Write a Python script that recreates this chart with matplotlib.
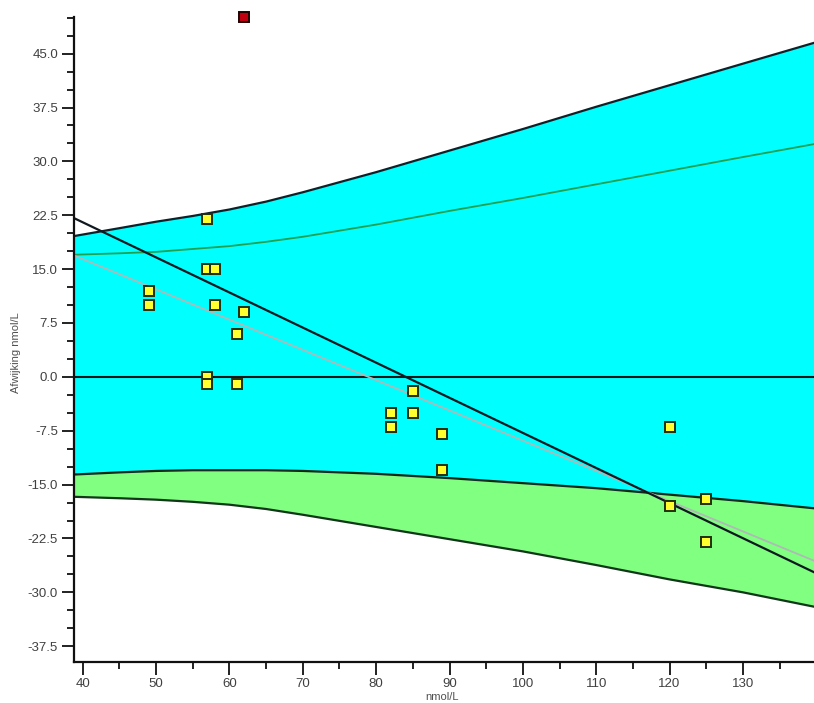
import matplotlib.pyplot as plt

# measured points (nmol/L vs deviation)
meas_x = [49, 49, 57, 57, 58, 58, 62, 61, 57, 57, 61, 82, 82, 85, 85, 89, 89, 120, 120, 125, 125]
meas_y = [12, 10, 22, 15, 15, 10, 9, 6, 0, -1, -1, -5, -7, -2, -5, -8, -13, -7, -18, -17, -23]

# outlier, drawn at the top edge
out_x = [62]
out_y = [50.1]

# limit curves
band_x = [38.8, 45, 50, 55, 60, 65, 70, 80, 90, 100, 110, 120, 130, 139.7]
upper = [19.6, 20.7, 21.6, 22.4, 23.3, 24.4, 25.7, 28.5, 31.5, 34.5, 37.6, 40.6, 43.6, 46.5]
middle = [17.0, 17.2, 17.4, 17.8, 18.2, 18.8, 19.5, 21.2, 23.1, 24.9, 26.8, 28.7, 30.6, 32.4]
lower = [-13.6, -13.3, -13.1, -13.0, -13.0, -13.0, -13.1, -13.5, -14.1, -14.8, -15.5, -16.4, -17.3, -18.3]
lowest = [-16.7, -16.9, -17.1, -17.4, -17.8, -18.4, -19.2, -20.9, -22.6, -24.3, -26.2, -28.2, -30.0, -32.0]

# regression lines
reg_x = [38.8, 139.7]
reg_y = [22.1, -27.2]
fit_y = [16.9, -25.6]

yticks = [-37.5, -30.0, -22.5, -15.0, -7.5, 0.0, 7.5, 15.0, 22.5, 30.0, 37.5, 45.0]
xticks = [40, 50, 60, 70, 80, 90, 100, 110, 120, 130]

plt.rcParams["font.family"] = ["Liberation Sans", "DejaVu Sans"]

fig = plt.figure(figsize=(8.14, 7.03), dpi=100)
ax = fig.add_axes([74 / 814, 41 / 703, 740 / 814, 645 / 703])

ax.fill_between(band_x, lower, upper, color="#00FFFF", lw=0)
ax.fill_between(band_x, lowest, lower, color="#80FF80", lw=0)

ax.plot(band_x, upper, color="#102028", lw=1.6)
ax.plot(band_x, middle, color="#20A050", lw=1.3)
ax.plot(band_x, lower, color="#102818", lw=1.6)
ax.plot(band_x, lowest, color="#103818", lw=1.6)

ax.axhline(0, color="#101818", lw=1.5)
ax.plot(reg_x, fit_y, color="#B0B8B8", lw=1.3)
ax.plot(reg_x, reg_y, color="#101820", lw=1.6)

ax.plot(meas_x, meas_y, "s", ms=7.8, mfc="#FFFF30", mec="#203010", mew=1.4, zorder=5)
ax.plot(out_x, out_y, "s", ms=7.8, mfc="#C00010", mec="#200000", mew=1.4,
        zorder=5, clip_on=False)

ax.set_xlim(38.8, 139.7)
ax.set_ylim(-39.7, 50.1)

ax.set_xticks(xticks)
ax.set_xticklabels([str(v) for v in xticks])
ax.set_yticks(yticks)
ax.set_yticklabels(["%.1f" % v for v in yticks])
ax.set_xticks([45, 55, 65, 75, 85, 95, 105, 115, 125, 135], minor=True)
ax.set_yticks([-35, -32.5, -27.5, -25, -20, -17.5, -12.5, -10, -5, -2.5, 2.5, 5,
               10, 12.5, 17.5, 20, 25, 27.5, 32.5, 35, 40, 42.5, 47.5, 50], minor=True)

ax.tick_params(which="major", length=9, width=1.3, color="#101010",
               labelsize=9.5, labelcolor="#404040", pad=2.5)
ax.tick_params(which="minor", length=5, width=1.3, color="#101010")

for side in ["top", "right"]:
    ax.spines[side].set_visible(False)
for side in ["left", "bottom"]:
    ax.spines[side].set_linewidth(1.6)
    ax.spines[side].set_color("#101010")

fig.text(16 / 814, 1 - 353 / 703, "Afwijking nmol/L", rotation=90,
         ha="center", va="center", fontsize=8, color="#505050")
fig.text(442 / 814, 0.5 / 703, "nmol/L", ha="center", va="bottom",
         fontsize=8, color="#505050")

fig.savefig("out.png", dpi=100)
